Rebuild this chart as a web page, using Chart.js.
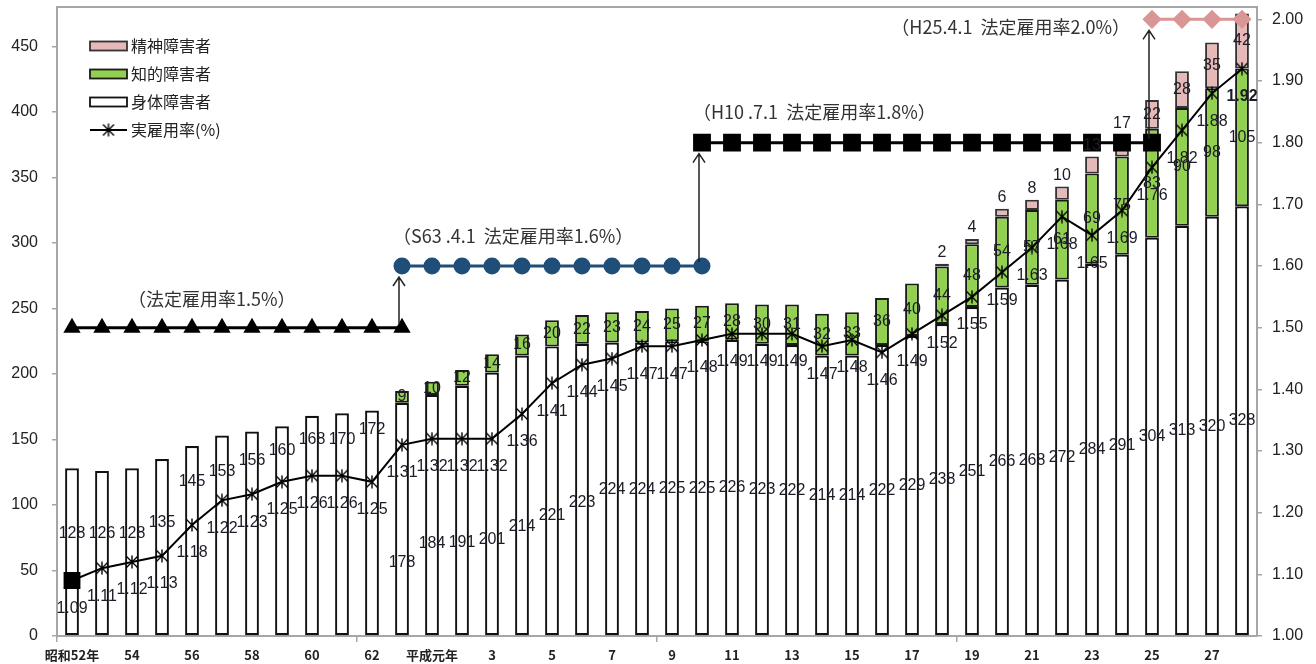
<!DOCTYPE html>
<html lang="ja">
<head>
<meta charset="utf-8">
<title>障害者の雇用状況</title>
<script src="https://cdn.jsdelivr.net/npm/chart.js@4.4.1/dist/chart.umd.min.js"></script>
<style>
  html, body { margin: 0; padding: 0; background: #fff; }
  #wrap { width: 1316px; height: 664px; position: relative; }
  canvas { display: block; }
</style>
</head>
<body>
<div id="wrap"><canvas id="chart" width="1316" height="664"></canvas></div>
<script>
// ---- data -------------------------------------------------------------
const categories = ['昭和52年','53','54','55','56','57','58','59','60','61','62','63',
  '平成元年','2','3','4','5','6','7','8','9','10','11','12','13','14','15','16','17','18','19','20',
  '21','22','23','24','25','26','27','28'];

// 身体障害者
const physical = [128,126,128,135,145,153,156,160,168,170,172,178,
  184,191,201,214,221,223,224,224,225,225,226,223,222,214,214,222,229,238,251,266,
  268,272,284,291,304,313,320,328];

// 知的障害者
const intellectual = [null,null,null,null,null,null,null,null,null,null,null,9,
  10,12,14,16,20,22,23,24,25,27,28,30,31,32,33,36,40,44,48,54,
  57,61,69,75,83,90,98,105];

// 精神障害者
const mental = [null,null,null,null,null,null,null,null,null,null,null,null,
  null,null,null,null,null,null,null,null,null,null,null,null,null,null,null,null,null,2,4,6,
  8,10,13,17,22,28,35,42];

// 実雇用率(%)
const actualRate = [1.09,1.11,1.12,1.13,1.18,1.22,1.23,1.25,1.26,1.26,1.25,1.31,
  1.32,1.32,1.32,1.36,1.41,1.44,1.45,1.47,1.47,1.48,1.49,1.49,1.49,1.47,1.48,1.46,1.49,1.52,1.55,1.59,
  1.63,1.68,1.65,1.69,1.76,1.82,1.88,1.92];

// 法定雇用率 and the year span (category index) each one covers
const legalRate  = [1.5, 1.6, 1.8, 2.0];
const legalFrom  = [0, 11, 21, 36];
const legalTo    = [11, 21, 36, 39];
const legalNotes = ['（法定雇用率1.5%）', '（S63 .4.1  法定雇用率1.6%）',
                    '（H10 .7.1  法定雇用率1.8%）', '（H25.4.1  法定雇用率2.0%）'];

// axis ticks
const countTicks = [0,50,100,150,200,250,300,350,400,450];
const rateTicks  = [1.0,1.1,1.2,1.3,1.4,1.5,1.6,1.7,1.8,1.9,2.0];

// ---- styling ----------------------------------------------------------
const NUM_FONT = '"Liberation Sans", Arial, sans-serif';
const JP_FONT  = '"Noto Sans CJK JP", "Noto Sans", sans-serif';
const PINK = '#E6B9B8', GREEN = '#92D050', NAVY = '#1F4E79', ROSE = '#D99694';

// asterisk marker for the 実雇用率 line
const asterisk = (() => {
  const s = 14, c = document.createElement('canvas');
  c.width = s; c.height = s;
  const g = c.getContext('2d');
  g.strokeStyle = '#000'; g.lineWidth = 1.4;
  g.beginPath();
  g.moveTo(1.5, 1.5); g.lineTo(s - 1.5, s - 1.5);
  g.moveTo(s - 1.5, 1.5); g.lineTo(1.5, s - 1.5);
  g.moveTo(s / 2, 0.5); g.lineTo(s / 2, s - 0.5);
  g.stroke();
  return c;
})();

// vertical nudge (px) for the 身体障害者 labels in the early years
const physLabelShift = [-19,-20,-19,-25,-59,-64,-73,-81,-86,-85,-94,43,28,32,35,31,24,13,
  0,0,0,0,0,0,0,0,0,0,0,0,0,0,0,0,0,0,0,0,0,0];

const legalSeries = legalRate.map((r, k) =>
  categories.map((_, i) => (i >= legalFrom[k] && i <= legalTo[k]) ? r : null));

const legalStyles = [
  { color: '#000', point: 'triangle', radius: 7 },
  { color: NAVY,  point: 'circle',   radius: 7 },
  { color: '#000', point: 'rect',     radius: 10.5 },
  { color: ROSE,  point: 'rectRot',  radius: 7.5 }
];

// ---- plugins ----------------------------------------------------------
const decorations = {
  id: 'decorations',
  afterDatasetsDraw(chart) {
    const { ctx, chartArea: a, scales: { x, y, y1 } } = chart;
    ctx.save();

    // top frame of the plot area
    ctx.strokeStyle = '#a6a6a6'; ctx.lineWidth = 2;
    ctx.beginPath(); ctx.moveTo(a.left - 1, a.top); ctx.lineTo(a.right + 1, a.top); ctx.stroke();

    // arrows from one 法定雇用率 step up to the next
    ctx.strokeStyle = '#222'; ctx.lineWidth = 1.5;
    for (let k = 1; k < legalRate.length; k++) {
      const ax = x.getPixelForValue(legalFrom[k]) - 3;
      const y0 = y1.getPixelForValue(legalRate[k - 1]) - 4;
      const yT = y1.getPixelForValue(legalRate[k]) + 11;
      ctx.beginPath();
      ctx.moveTo(ax, y0); ctx.lineTo(ax, yT);
      ctx.moveTo(ax - 6, yT + 9); ctx.lineTo(ax, yT); ctx.lineTo(ax + 6, yT + 9);
      ctx.stroke();
    }

    // notes for each 法定雇用率 step
    ctx.font = '18px ' + JP_FONT;
    ctx.fillStyle = '#333';
    ctx.textBaseline = 'middle';
    const noteOffsets = [[56, -29, 'left'], [-9, -30, 'left'], [-9, -31, 'left'], [-22, 8, 'right']];
    legalNotes.forEach((t, k) => {
      const [dx, dy, al] = noteOffsets[k];
      ctx.textAlign = al;
      ctx.fillText(t, x.getPixelForValue(legalFrom[k]) + dx, y1.getPixelForValue(legalRate[k]) + dy);
    });

    // value labels
    ctx.font = '16px ' + NUM_FONT;
    ctx.fillStyle = '#1c1c28';
    ctx.textAlign = 'center';
    categories.forEach((_, i) => {
      const cx = x.getPixelForValue(i);
      const p = physical[i], q = intellectual[i], m = mental[i];
      ctx.fillText(String(p), cx, y.getPixelForValue(p / 2) + physLabelShift[i]);
      if (q != null) ctx.fillText(String(q), cx, y.getPixelForValue(p + q / 2));
      if (m != null) {
        const top = p + (q || 0) + m;
        const ly = m < 20 ? y.getPixelForValue(top) - 11 : y.getPixelForValue(top - m / 2);
        ctx.fillText(String(m), cx, ly);
      }
    });
    actualRate.forEach((r, i) => {
      const last = i === actualRate.length - 1;
      ctx.font = (last ? 'bold ' : '') + '16px ' + NUM_FONT;
      ctx.fillText(r.toFixed(2), x.getPixelForValue(i), y1.getPixelForValue(r) + 28);
    });

    // legend
    const ds = chart.data.datasets;
    const byLabel = l => ds.find(d => d.label === l);
    const rows = [byLabel('精神障害者'), byLabel('知的障害者'), byLabel('身体障害者'), byLabel('実雇用率(%)')];
    let ly = 46;
    rows.forEach(d => {
      if (d.type === 'line') {
        ctx.strokeStyle = '#000'; ctx.lineWidth = 2;
        ctx.beginPath(); ctx.moveTo(90, ly); ctx.lineTo(127, ly); ctx.stroke();
        ctx.drawImage(asterisk, 108.5 - 7, ly - 7);
      } else {
        ctx.fillStyle = d.backgroundColor;
        ctx.fillRect(90, ly - 4.5, 37, 9);
        ctx.strokeStyle = d.borderColor; ctx.lineWidth = 1.8;
        ctx.strokeRect(90, ly - 4.5, 37, 9);
      }
      ctx.fillStyle = '#222';
      ctx.font = '16px ' + JP_FONT;
      ctx.textAlign = 'left';
      ctx.fillText(d.label, 131, ly);
      ly += 28;
    });

    ctx.restore();
  }
};

// ---- chart ------------------------------------------------------------
const datasets = [
  {
    type: 'line', label: '実雇用率(%)', data: actualRate, yAxisID: 'y1', order: 0,
    borderColor: '#000', borderWidth: 2, tension: 0, fill: false,
    pointStyle: c => c.dataIndex === 0 ? 'rect' : asterisk,
    pointRadius: c => c.dataIndex === 0 ? 10.5 : 7,
    pointBackgroundColor: '#000', pointBorderColor: '#000'
  },
  ...legalSeries.map((s, k) => ({
    type: 'line', label: '法定雇用率' + legalRate[k].toFixed(1) + '%', data: s, yAxisID: 'y1', order: 1,
    borderColor: legalStyles[k].color, borderWidth: 3, tension: 0, fill: false, spanGaps: false,
    pointStyle: legalStyles[k].point, pointRadius: legalStyles[k].radius,
    pointBackgroundColor: legalStyles[k].color, pointBorderColor: legalStyles[k].color
  })),
  {
    type: 'bar', label: '身体障害者', data: physical, yAxisID: 'y', stack: 'w', order: 2,
    backgroundColor: '#ffffff', borderColor: '#111', borderWidth: 2.2, borderSkipped: false
  },
  {
    type: 'bar', label: '知的障害者', data: intellectual, yAxisID: 'y', stack: 'w', order: 2,
    backgroundColor: GREEN, borderColor: '#1a1a1a', borderWidth: 2, borderSkipped: false
  },
  {
    type: 'bar', label: '精神障害者', data: mental, yAxisID: 'y', stack: 'w', order: 2,
    backgroundColor: PINK, borderColor: '#333', borderWidth: 2, borderSkipped: false
  }
];

const noPad = s => { s.paddingTop = 0; s.paddingBottom = 0; };

new Chart(document.getElementById('chart'), {
  type: 'bar',
  data: { labels: categories, datasets },
  options: {
    responsive: false,
    animation: false,
    devicePixelRatio: 1,
    layout: { autoPadding: false, padding: { top: 7, left: 0, right: 0, bottom: 0 } },
    datasets: { bar: { barPercentage: 0.46, categoryPercentage: 1 } },
    plugins: { legend: { display: false }, title: { display: false }, tooltip: { enabled: false } },
    scales: {
      x: {
        stacked: true,
        offset: true,
        grid: {
          offset: true, drawOnChartArea: false, drawTicks: true, tickLength: 6,
          color: c => (c.index % 10 === 0 ? '#a6a6a6' : 'rgba(0,0,0,0)'), lineWidth: 1.5
        },
        border: { display: true, color: '#a6a6a6', width: 2 },
        ticks: {
          autoSkip: false, maxRotation: 0, padding: 5, color: '#222',
          font: { family: JP_FONT, size: 13, weight: 'bold' },
          callback: function (v, i) { return i % 2 === 0 ? this.getLabelForValue(v) : ''; }
        },
        afterFit: s => { s.height = 28; s.paddingLeft = 0; s.paddingRight = 0; }
      },
      y: {
        position: 'left', stacked: true, min: 0, max: 480,
        afterBuildTicks: s => { s.ticks = countTicks.map(v => ({ value: v })); },
        grid: { drawOnChartArea: false, drawTicks: true, tickLength: 5, color: '#a6a6a6', lineWidth: 1.5 },
        border: { display: true, color: '#a6a6a6', width: 2 },
        ticks: { padding: 14, color: '#222', font: { family: NUM_FONT, size: 16 } },
        afterFit: s => { s.width = 57; noPad(s); }
      },
      y1: {
        position: 'right', min: 1.0, max: 2.02,
        afterBuildTicks: s => { s.ticks = rateTicks.map(v => ({ value: v })); },
        grid: { drawOnChartArea: false, drawTicks: true, tickLength: 5, color: '#a6a6a6', lineWidth: 1.5 },
        border: { display: true, color: '#a6a6a6', width: 2 },
        ticks: { padding: 10, color: '#222', font: { family: NUM_FONT, size: 16 },
                 callback: v => Number(v).toFixed(2) },
        afterFit: s => { s.width = 59; noPad(s); }
      }
    }
  },
  plugins: [decorations]
});
</script>
</body>
</html>
